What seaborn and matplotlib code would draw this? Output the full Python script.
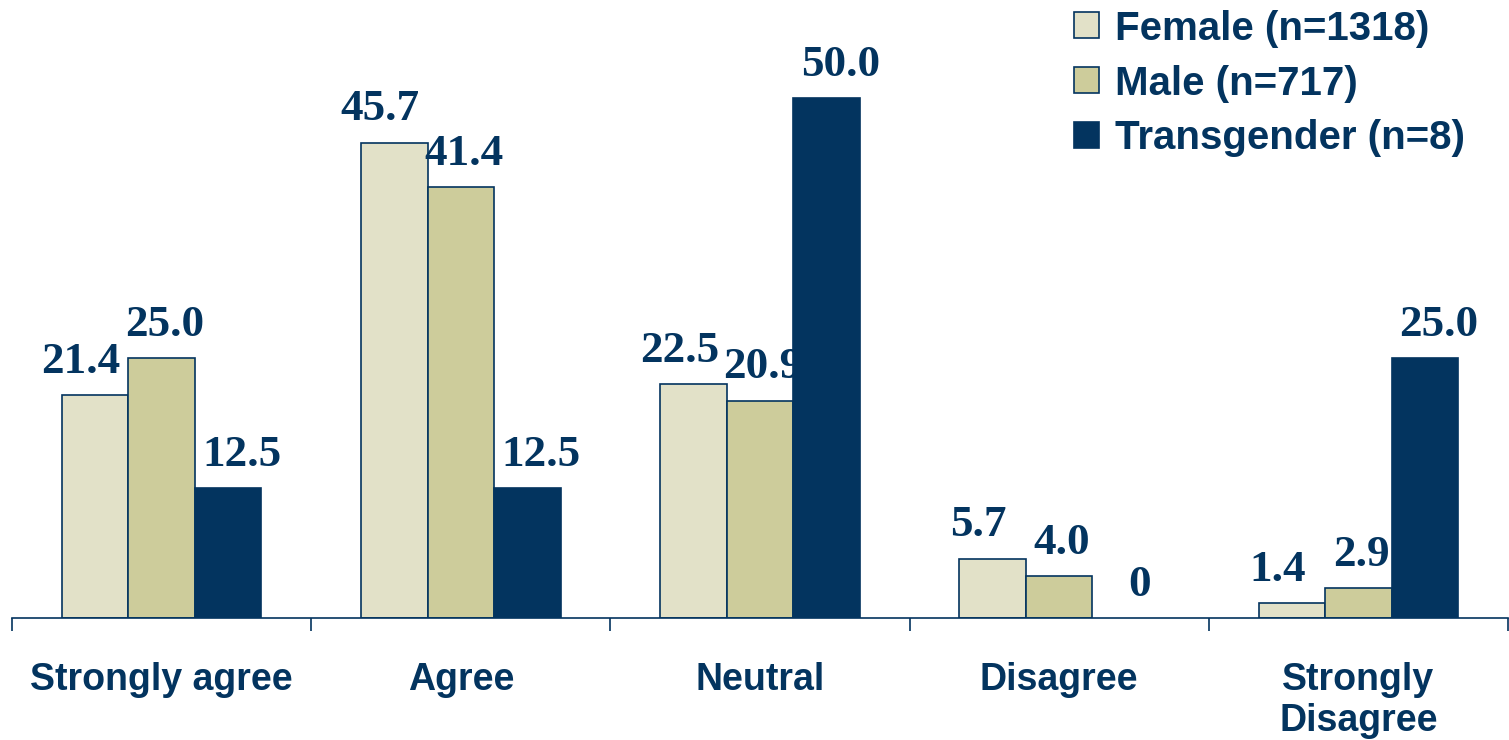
import pandas as pd
import numpy as np
import seaborn as sns
import matplotlib.pyplot as plt
from matplotlib.patches import Patch

# Data (percent)
categories = ['Strongly agree', 'Agree', 'Neutral', 'Disagree', 'Strongly\nDisagree']
groups = ['Female (n=1318)', 'Male (n=717)', 'Transgender (n=8)']
female = [21.4, 45.7, 22.5, 5.7, 1.4]
male = [25.0, 41.4, 20.9, 4.0, 2.9]
transgender = [12.5, 12.5, 50.0, 0, 25.0]

navy = '#03345f'
colors = ['#e2e1c8', '#cdcc9b', navy]

df = pd.DataFrame({
    'Response': categories * 3,
    'Group': [groups[0]] * 5 + [groups[1]] * 5 + [groups[2]] * 5,
    'Percent': female + male + transgender,
})

sns.set_style('white')
plt.rcParams['font.family'] = ['Liberation Sans', 'DejaVu Sans']

fig = plt.figure(figsize=(15.09, 7.40), dpi=100)
ax = fig.add_axes([12 / 1509, 1 - 618 / 740, 1496 / 1509, 618 / 740])

sns.barplot(data=df, x='Response', y='Percent', hue='Group', hue_order=groups,
            palette=colors, width=0.667, gap=0, edgecolor=navy, linewidth=1.2,
            saturation=1, legend=False, ax=ax)

ax.set_ylim(0, 59.4)
ax.set_xlim(-0.5, 4.5)
ax.set_xlabel('')
ax.set_ylabel('')
ax.set_yticks([])
for s in ['top', 'left', 'right']:
    ax.spines[s].set_visible(False)
ax.spines['bottom'].set_color(navy)
ax.spines['bottom'].set_linewidth(1.2)

# category ticks sit between groups
ax.set_xticks(np.arange(-0.5, 5, 1), minor=True)
ax.tick_params(axis='x', which='minor', bottom=True, length=9, width=1.2,
               color=navy, direction='out')
ax.tick_params(axis='x', which='major', length=0, pad=32)
for lbl in ax.get_xticklabels():
    lbl.set_fontsize(27)
    lbl.set_fontweight('bold')
    lbl.set_color(navy)
    lbl.set_linespacing(1.15)

# value labels
offsets = [-10, 2, 10]
for i, cont in enumerate(ax.containers):
    for bar, val in zip(cont, [female, male, transgender][i]):
        if val == 0:
            bar.set_linewidth(0)
        txt = '0' if val == 0 else f'{val:.1f}'
        ax.annotate(txt, (bar.get_x() + bar.get_width() / 2, bar.get_height()),
                    xytext=(offsets[i], 16), textcoords='offset points',
                    ha='center', va='baseline', fontsize=32.5, fontweight='bold',
                    color=navy, family='Liberation Serif', annotation_clip=False)

handles = [Patch(facecolor=c, edgecolor=navy, linewidth=1.2) for c in colors]
leg = fig.legend(handles, groups, loc='upper right', bbox_to_anchor=(0.995, 1.036),
                 frameon=False, fontsize=29, handlelength=0.62, handleheight=0.62,
                 handletextpad=0.4, labelspacing=0.42)
for t in leg.get_texts():
    t.set_color(navy)
    t.set_fontweight('bold')

fig.savefig('out.png', dpi=100)
